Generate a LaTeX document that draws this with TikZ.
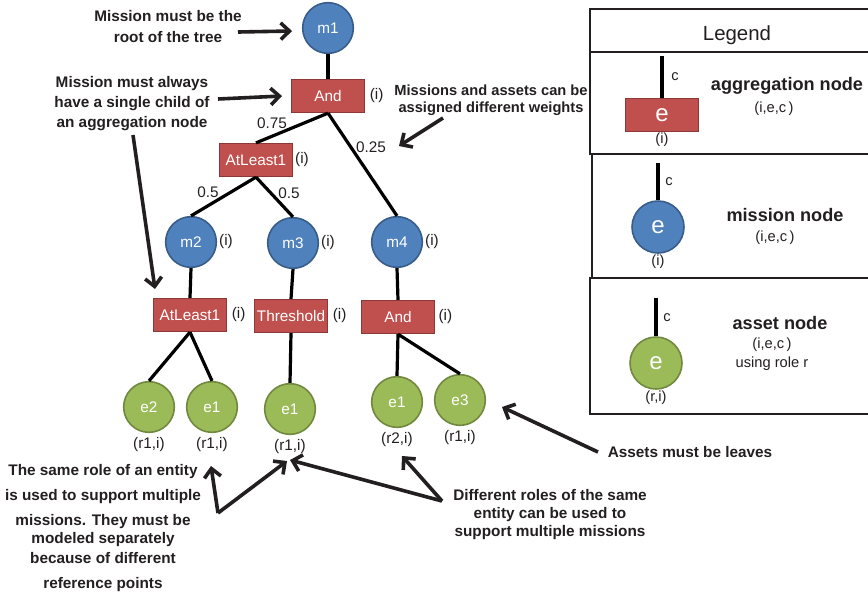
\documentclass[tikz,border=0pt]{standalone}
\usepackage{fontspec}
\setmainfont{Liberation Sans}
\usetikzlibrary{arrows.meta}

\definecolor{aggred}{HTML}{C0504D}
\definecolor{aggredline}{HTML}{8C3836}
\definecolor{misblue}{HTML}{4F81BD}
\definecolor{misblueline}{HTML}{385D8A}
\definecolor{assgreen}{HTML}{9BBB59}
\definecolor{assgreenline}{HTML}{71893F}
\definecolor{notetext}{HTML}{231F20}

\newcommand{\basefont}{\fontsize{11.5pt}{14pt}\selectfont}
\newcommand{\keyfont}{\fontsize{13.6pt}{16pt}\selectfont\bfseries}
\newcommand{\smallfont}{\fontsize{11pt}{13pt}\selectfont}

\tikzset{
  mission/.style={circle, fill=misblue, draw=misblueline, line width=1.2pt, minimum size=38pt, inner sep=0pt, text=white},
  asset/.style={circle, fill=assgreen, draw=assgreenline, line width=1.2pt, minimum size=38pt, inner sep=0pt, text=white},
  aggr/.style={rectangle, fill=aggred, draw=aggredline, line width=1.2pt, minimum width=54.5pt, minimum height=24.5pt, inner sep=1pt, text=white},
  edge/.style={line width=2.4pt, black},
  lbl/.style={text=notetext},
  note/.style={font=\basefont\bfseries, text=notetext, align=center},
  notearrow/.style={line width=2.7pt, notetext, -{Straight Barb[length=6.5pt,width=12.5pt]}},
  frame/.style={line width=2pt, notetext},
  bige/.style={font=\fontsize{18pt}{18pt}\selectfont}
}

\begin{document}
\begin{tikzpicture}[x=0.75pt,y=-0.75pt,font=\basefont]
\clip (0,0) rectangle (868,594);

% the tree
\node[mission] (m1) at (328,28) {m1};
\node[aggr,label={[lbl]right:(i)}] (and1) at (328,96) {And};
\node[aggr,label={[lbl,label distance=-2pt]right:(i)}] (al1) at (256,160) {AtLeast1};
\node[mission,label={[lbl,label distance=-2pt]right:(i)}] (m2) at (191,242) {m2};
\node[mission,label={[lbl,label distance=-2pt]right:(i)}] (m3) at (293,243) {m3};
\node[mission,label={[lbl,label distance=-2pt]right:(i)}] (m4) at (397,242) {m4};
\node[aggr,label={[lbl]right:(i)}] (al2) at (190,315) {AtLeast1};
\node[aggr,label={[lbl]right:(i)}] (thr) at (291,316) {Threshold};
\node[aggr,label={[lbl,label distance=-1pt]right:(i)}] (and2) at (398,317) {And};
\node[asset,label={[lbl]below:(r1,i)}] (e2) at (149,407) {e2};
\node[asset,label={[lbl]below:(r1,i)}] (e1a) at (212,407) {e1};
\node[asset,label={[lbl]below:(r1,i)}] (e1b) at (290,409) {e1};
\node[asset,label={[lbl]below:(r2,i)}] (e1c) at (397,402) {e1};
\node[asset,label={[lbl]below:(r1,i)}] (e3) at (460,400) {e3};

\draw[edge] (m1.south) -- (and1.north);
\draw[edge] (and1.south) -- (al1.north);
\draw[edge] (and1.south) -- (m4.north);
\draw[edge] (al1.south) -- (m2.north);
\draw[edge] (al1.south) -- (m3.north);
\draw[edge] (m2.south) -- (al2.north);
\draw[edge] (m3.south) -- (thr.north);
\draw[edge] (m4.south) -- (and2.north);
\draw[edge] (al2.south) -- (e2.north);
\draw[edge] (al2.south) -- (e1a.north);
\draw[edge] (thr.south) -- (e1b.north);
\draw[edge] (and2.south) -- (e1c.north);
\draw[edge] (and2.south) -- (e3.north);

% weights
\node[lbl] (w75) at (272,123) {0.75};
\node[lbl] (w25) at (371,147) {0.25};
\node[lbl] (w5a) at (208,192) {0.5};
\node[lbl] (w5b) at (289,193) {0.5};

% notes
\node[note,font=\fontsize{11.5pt}{15.75pt}\selectfont\bfseries] (rootnote) at (168,27) {Mission must be the\\root of the tree};
\node[note,font=\fontsize{11.5pt}{15pt}\selectfont\bfseries] (childnote) at (132,104) {Mission must always\\have a single child of\\an aggregation node};
\node[note,font=\fontsize{11pt}{12.5pt}\selectfont\bfseries] (weightnote) at (491,100) {Missions and assets can be\\assigned different weights};
\node[note] (leafnote) at (690,452) {Assets must be leaves};
\node[note,font=\fontsize{11.5pt}{13.5pt}\selectfont\bfseries] (rolenote) at (550,515) {Different roles of the same\\entity can be used to\\support multiple missions};
\node[note,font=\fontsize{11.5pt}{13.5pt}\selectfont\bfseries] (samenote) at (103,528)
  {The same role of an entity\\[5.25pt]is used to support multiple\\[5.25pt]missions. They must be\\modeled separately\\[1.5pt]because of different\\[5.25pt]reference points};

\coordinate (rootfrom) at (238,32);
\coordinate (rootto) at (292,31);
\coordinate (childfrom) at (218,99);
\coordinate (childto) at (282,96);
\coordinate (childfrom2) at (133,135);
\coordinate (childto2) at (155,289);
\coordinate (weightfrom) at (443,118);
\coordinate (weightto) at (399,146);
\coordinate (leaffrom) at (598,452);
\coordinate (leafto) at (502,407);
\coordinate (rolefrom) at (442,501);
\coordinate (roleto1) at (402,456);
\coordinate (roleto2) at (290,460);
\coordinate (samefrom) at (218,513);
\coordinate (sameto1) at (211,466);
\coordinate (sameto2) at (287,461);

\draw[notearrow] (rootfrom) -- (rootto);
\draw[notearrow] (childfrom) -- (childto);
\draw[notearrow] (childfrom2) -- (childto2);
\draw[notearrow] (weightfrom) -- (weightto);
\draw[notearrow] (leaffrom) -- (leafto);
\draw[notearrow] (rolefrom) -- (roleto1);
\draw[notearrow] (rolefrom) -- (roleto2);
\draw[notearrow] (samefrom) -- (sameto1);
\draw[notearrow] (samefrom) -- (sameto2);

% legend
\draw[frame] (590,9) rectangle (880,52);
\draw[frame] (590,52) rectangle (880,154);
\draw[frame] (592,154) rectangle (880,278);
\draw[frame] (590,278) rectangle (880,414);
\node[lbl,font=\fontsize{15.3pt}{18pt}\selectfont] (legtitle) at (737,35) {Legend};

\node[aggr,bige,label={[lbl,label distance=-3pt,font=\smallfont]below:(i)}] (lgagg) at (662,115) {e};
\coordinate (lgaggtop) at (662,56);
\draw[edge] (lgagg.north) -- (lgaggtop);
\node[lbl,font=\smallfont] (lgaggc) at (675,77) {c};
\node[lbl,font=\keyfont] (lgaggname) at (787,86) {aggregation node};
\node[lbl,font=\smallfont] (lgaggtup) at (774,109) {(i,e,c\,)};

\node[mission,minimum size=39pt,bige,label={[lbl,label distance=-3pt,font=\smallfont]below:(i)}] (lgmis) at (658,227) {e};
\coordinate (lgmistop) at (658,163);
\draw[edge] (lgmis.north) -- (lgmistop);
\node[lbl,font=\smallfont] (lgmisc) at (669,182) {c};
\node[lbl,font=\keyfont] (lgmisname) at (785,215) {mission node};
\node[lbl,font=\smallfont] (lgmistup) at (775,238) {(i,e,c\,)};

\node[asset,minimum size=39pt,bige,label={[lbl,label distance=-3pt,font=\smallfont]below:(r,i)}] (lgass) at (656,363) {e};
\coordinate (lgasstop) at (656,298);
\draw[edge] (lgass.north) -- (lgasstop);
\node[lbl,font=\smallfont] (lgassc) at (667,318) {c};
\node[lbl,font=\keyfont] (lgassname) at (780,323) {asset node};
\node[lbl,font=\smallfont] (lgasstup) at (772,345) {(i,e,c\,)};
\node[lbl,font=\smallfont] (lgassrole) at (772,364) {using role r};
\end{tikzpicture}
\end{document}
